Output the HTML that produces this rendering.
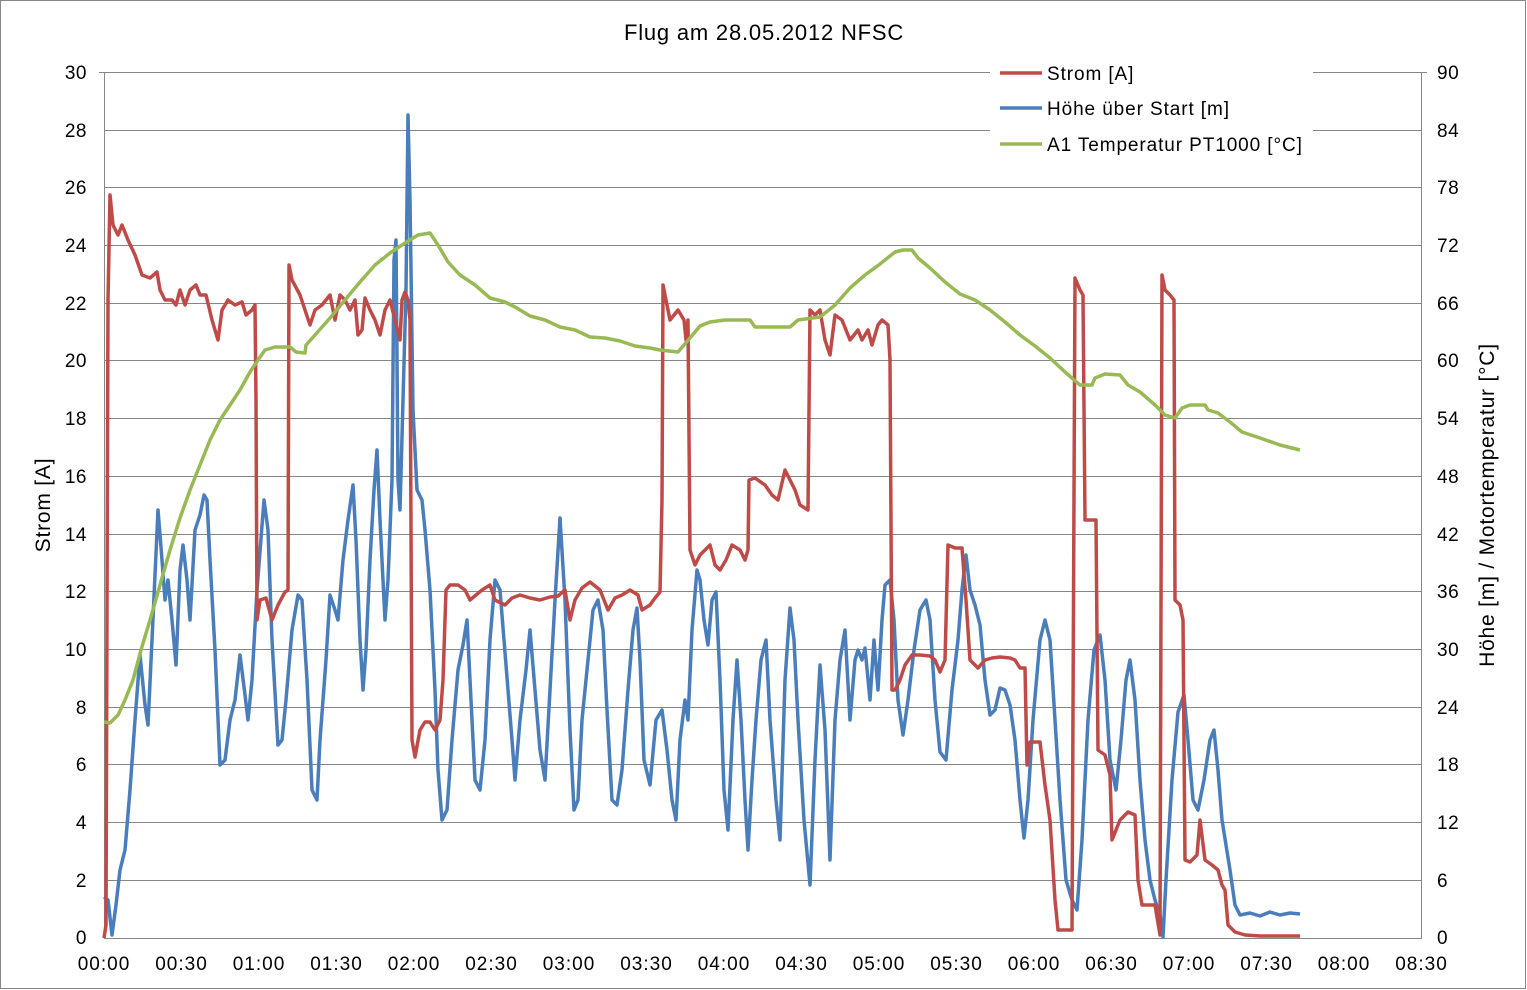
<!DOCTYPE html>
<html><head><meta charset="utf-8"><style>
html,body{margin:0;padding:0;background:#fff}
svg{display:block;font-family:"Liberation Sans",Arial,sans-serif}
</style></head><body>
<svg width="1527" height="990" viewBox="0 0 1527 990" xmlns="http://www.w3.org/2000/svg">
<rect x="0.5" y="0.5" width="1525" height="988" fill="#fff" stroke="#868686"/>
<text x="764" y="40" font-size="22" letter-spacing="0.8" text-anchor="middle">Flug am 28.05.2012 NFSC</text>
<g id="grid" stroke="#868686" stroke-width="1">
<line x1="104" y1="72.5" x2="1422" y2="72.5"/><line x1="104" y1="130.5" x2="1422" y2="130.5"/><line x1="104" y1="187.5" x2="1422" y2="187.5"/><line x1="104" y1="245.5" x2="1422" y2="245.5"/><line x1="104" y1="303.5" x2="1422" y2="303.5"/><line x1="104" y1="360.5" x2="1422" y2="360.5"/><line x1="104" y1="418.5" x2="1422" y2="418.5"/><line x1="104" y1="476.5" x2="1422" y2="476.5"/><line x1="104" y1="534.5" x2="1422" y2="534.5"/><line x1="104" y1="591.5" x2="1422" y2="591.5"/><line x1="104" y1="649.5" x2="1422" y2="649.5"/><line x1="104" y1="707.5" x2="1422" y2="707.5"/><line x1="104" y1="764.5" x2="1422" y2="764.5"/><line x1="104" y1="822.5" x2="1422" y2="822.5"/><line x1="104" y1="880.5" x2="1422" y2="880.5"/>
<line x1="104.5" y1="72" x2="104.5" y2="938"/><line x1="1421.5" y1="72" x2="1421.5" y2="938"/>
<line x1="104" y1="938.5" x2="1422" y2="938.5"/>
</g>
<g stroke="#868686">
<line x1="99" y1="72.5" x2="104" y2="72.5"/><line x1="1422" y1="72.5" x2="1427" y2="72.5"/>
</g>
<g font-size="19" letter-spacing="0.5" text-anchor="end">
<text x="87" y="79">30</text><text x="87" y="137">28</text><text x="87" y="194">26</text><text x="87" y="252">24</text><text x="87" y="310">22</text><text x="87" y="367">20</text><text x="87" y="425">18</text><text x="87" y="483">16</text><text x="87" y="541">14</text><text x="87" y="598">12</text><text x="87" y="656">10</text><text x="87" y="714">8</text><text x="87" y="771">6</text><text x="87" y="829">4</text><text x="87" y="887">2</text><text x="87" y="944">0</text>
</g>
<g font-size="19" letter-spacing="0.5" text-anchor="start">
<text x="1437" y="79">90</text><text x="1437" y="137">84</text><text x="1437" y="194">78</text><text x="1437" y="252">72</text><text x="1437" y="310">66</text><text x="1437" y="367">60</text><text x="1437" y="425">54</text><text x="1437" y="483">48</text><text x="1437" y="541">42</text><text x="1437" y="598">36</text><text x="1437" y="656">30</text><text x="1437" y="714">24</text><text x="1437" y="771">18</text><text x="1437" y="829">12</text><text x="1437" y="887">6</text><text x="1437" y="944">0</text>
</g>
<g font-size="19" letter-spacing="1" text-anchor="middle">
<text x="104" y="970">00:00</text><text x="181.5" y="970">00:30</text><text x="259" y="970">01:00</text><text x="336.5" y="970">01:30</text><text x="414" y="970">02:00</text><text x="491.5" y="970">02:30</text><text x="569" y="970">03:00</text><text x="646.5" y="970">03:30</text><text x="724" y="970">04:00</text><text x="801.5" y="970">04:30</text><text x="879" y="970">05:00</text><text x="956.5" y="970">05:30</text><text x="1034" y="970">06:00</text><text x="1111.5" y="970">06:30</text><text x="1189" y="970">07:00</text><text x="1266.5" y="970">07:30</text><text x="1344" y="970">08:00</text><text x="1421.5" y="970">08:30</text>
</g>
<text transform="translate(50,505) rotate(-90)" font-size="21" letter-spacing="0.8" text-anchor="middle">Strom [A]</text>
<text transform="translate(1494,505) rotate(-90)" font-size="21" letter-spacing="0.8" text-anchor="middle">Höhe [m] / Motortemperatur [°C]</text>
<polyline fill="none" stroke="#4A7EBB" stroke-width="3.5" stroke-linejoin="round" points="104,897 108,900 112,935 116,905 120,870 125,850 130,790 135,720 140,655 145,705 148,725 152,640 158,510 162,560 165,600 168,580 172,620 176,665 180,570 183,545 187,580 190,620 195,530 200,515 204,495 207,500 210,560 215,650 220,765 225,760 230,720 235,700 240,655 245,695 248,720 252,680 257,590 264,500 268,530 272,640 278,745 282,740 286,700 292,630 298,595 302,600 307,680 312,790 317,800 320,740 326,660 330,595 335,610 338,620 343,560 348,520 353,485 356,540 360,640 363,690 366,650 370,560 374,490 377,450 380,520 385,620 388,580 392,480 394,260 396,240 398,480 400,510 403,400 406,290 408,115 410,200 413,410 417,490 422,500 425,530 430,590 435,690 438,770 442,820 447,810 452,740 458,670 463,645 467,620 470,680 475,780 480,790 485,740 490,640 495,580 500,590 504,640 508,690 512,740 515,780 520,720 526,670 530,630 535,690 540,750 545,780 550,690 555,600 560,518 565,600 570,730 574,810 578,800 582,720 588,660 593,610 598,600 603,630 607,710 612,800 617,805 622,770 628,690 633,630 637,608 640,660 644,760 650,785 656,720 662,710 667,750 672,800 676,820 680,740 685,700 688,720 692,630 697,570 700,580 704,620 708,645 712,600 716,592 720,680 724,790 728,830 733,720 737,660 741,720 745,800 748,850 752,780 756,720 761,660 766,640 770,720 776,800 780,840 785,680 790,608 794,640 798,720 804,820 810,885 815,760 820,665 825,730 830,860 835,720 840,660 845,630 850,720 855,660 858,650 862,660 865,648 870,700 874,640 878,690 882,620 885,585 890,580 894,620 898,700 903,735 908,700 914,650 920,610 926,600 930,620 935,700 940,752 946,760 952,690 958,640 962,590 966,555 970,590 975,605 980,625 985,680 990,715 995,710 1000,688 1005,690 1010,705 1015,740 1020,800 1024,838 1028,800 1033,720 1040,640 1045,620 1050,640 1055,720 1060,800 1066,880 1072,900 1077,910 1082,840 1088,720 1094,650 1100,635 1105,680 1110,760 1116,790 1121,740 1126,680 1130,660 1135,700 1140,780 1145,840 1150,880 1155,900 1160,915 1163,937 1166,880 1172,780 1178,712 1184,695 1188,740 1193,800 1198,810 1204,780 1210,740 1214,730 1218,770 1222,820 1230,870 1235,905 1240,915 1250,913 1260,916 1270,912 1280,915 1290,913 1300,914"/>
<polyline fill="none" stroke="#BE4B48" stroke-width="3.5" stroke-linejoin="round" points="104,938 106,925 108,300 110,195 113,225 118,235 122,225 128,240 135,255 142,275 150,278 157,272 160,290 165,300 172,300 176,305 180,290 185,305 190,290 196,285 200,295 206,295 212,320 218,340 222,310 228,300 235,305 242,302 246,315 252,310 255,305 256,400 257,620 260,600 266,598 272,620 278,605 285,592 288,590 289,265 292,280 300,295 305,310 310,325 315,310 322,305 330,295 335,320 340,295 345,300 350,310 355,300 358,335 362,330 365,298 370,310 375,320 380,335 385,310 390,300 395,320 400,340 402,300 405,292 408,300 410,320 412,740 415,757 420,730 425,722 430,722 435,730 440,720 443,680 446,590 450,585 458,585 465,590 470,600 476,595 482,590 490,585 495,600 505,605 512,598 520,595 530,598 540,600 550,597 558,596 565,590 570,620 575,600 582,588 590,582 600,590 608,610 615,598 622,595 630,590 638,595 642,610 650,605 655,598 660,592 662,500 663,285 666,300 670,320 678,310 684,320 686,340 688,320 690,550 695,565 700,555 705,550 710,545 715,565 720,570 726,560 732,545 740,550 745,560 748,550 749,480 755,478 765,485 772,495 778,500 785,470 790,480 795,490 800,505 808,510 810,310 815,315 820,310 825,340 830,355 835,315 842,320 850,340 858,330 862,340 868,330 872,345 878,325 882,320 888,325 890,360 892,690 895,690 900,680 905,665 912,655 920,655 930,656 935,660 940,672 945,660 948,545 955,548 962,548 966,600 970,660 978,668 985,660 992,658 1000,657 1010,658 1015,660 1020,668 1025,668 1027,765 1030,742 1040,742 1045,785 1050,820 1055,900 1058,930 1065,930 1072,930 1075,278 1080,290 1083,295 1085,520 1090,520 1096,520 1098,750 1105,755 1110,775 1112,840 1120,820 1128,812 1135,815 1138,880 1142,905 1148,905 1155,905 1160,935 1162,275 1165,290 1170,295 1174,300 1175,600 1180,605 1183,620 1185,860 1190,862 1197,855 1200,820 1205,860 1212,865 1218,870 1222,885 1225,890 1228,925 1235,932 1245,935 1260,936 1300,936"/>
<polyline fill="none" stroke="#98B954" stroke-width="3.5" stroke-linejoin="round" points="104,722 110,723 118,715 125,700 133,680 141,650 150,620 160,585 170,550 180,518 190,490 200,465 210,440 220,420 230,405 240,390 250,372 258,360 265,350 275,347 290,347 296,352 305,353 306,345 315,335 330,318 345,300 360,282 375,265 390,253 405,243 418,235 430,233 438,245 448,262 460,275 475,285 490,298 505,302 515,307 530,316 545,320 560,327 575,330 590,337 605,338 620,341 635,346 650,348 660,350 678,352 690,338 700,326 710,322 725,320 750,320 755,327 790,327 798,320 820,317 835,305 850,288 865,275 880,264 895,252 903,250 912,250 918,258 930,268 945,282 960,294 975,300 990,310 1005,322 1020,335 1035,346 1050,358 1065,372 1080,385 1092,385 1095,378 1105,374 1120,375 1128,385 1140,392 1155,405 1165,415 1175,418 1182,408 1190,405 1205,405 1208,410 1218,413 1230,422 1242,432 1260,438 1280,445 1300,450"/>
<rect x="990" y="60" width="323" height="98" fill="#fff"/>
<g stroke-width="3.5">
<line x1="1000" y1="73" x2="1042" y2="73" stroke="#BE4B48"/>
<line x1="1000" y1="108" x2="1042" y2="108" stroke="#4A7EBB"/>
<line x1="1000" y1="144" x2="1042" y2="144" stroke="#98B954"/>
</g>
<g font-size="19" letter-spacing="0.9">
<text x="1047" y="80">Strom [A]</text>
<text x="1047" y="115">Höhe über Start [m]</text>
<text x="1047" y="151">A1 Temperatur PT1000 [°C]</text>
</g>
</svg>
</body></html>
